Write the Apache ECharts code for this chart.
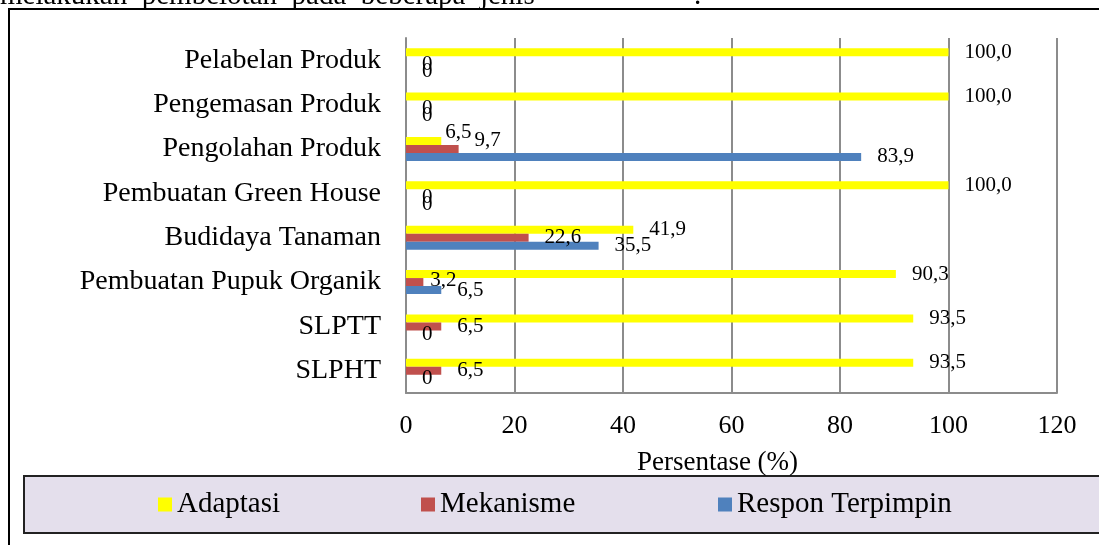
<!DOCTYPE html>
<html>
<head>
<meta charset="utf-8">
<script src="https://cdn.jsdelivr.net/npm/echarts@6/dist/echarts.min.js"></script>
<style>
html,body{margin:0;padding:0;background:#fff;}
#chart{width:1099px;height:545px;}
</style>
</head>
<body>
<div id="chart"></div>
<script>
// Categories bottom to top (as ECharts y category axis draws them)
var categories = ['SLPHT','SLPTT','Pembuatan Pupuk Organik','Budidaya Tanaman','Pembuatan Green House','Pengolahan Produk','Pengemasan Produk','Pelabelan Produk'];
var adaptasi = [93.5, 93.5, 90.3, 41.9, 100, 6.5, 100, 100];
var mekanisme = [6.5, 6.5, 3.2, 22.6, 0, 9.7, 0, 0];
var respon = [0, 0, 6.5, 35.5, 0, 83.9, 0, 0];
var seriesNames = ['Adaptasi','Mekanisme','Respon Terpimpin'];
var xTicks = [0, 20, 40, 60, 80, 100, 120];

// label nudges (separate from data)
var labelNudge = {
  'Adaptasi': {5: [-12, -8]},
  'Mekanisme': {5: [0, -8], 2: [-9, -2], 4: [0, 4], 6: [0, 4], 7: [0, 4]},
  'Respon Terpimpin': {4: [0, 3], 6: [0, 3], 7: [0, 3]}
};
var colors = {'Adaptasi':'#FFFF00','Mekanisme':'#C0504D','Respon Terpimpin':'#4F81BD'};
var FONT = '"Liberation Serif", "Times New Roman", serif';

function fmt(v){ return v === 0 ? '0' : v.toFixed(1).replace('.', ','); }
function mk(name, arr){
  return {
    name: name, type: 'bar', barWidth: 8, barGap: '0%',
    itemStyle: {color: colors[name]},
    label: {show: true, position: 'right', distance: 16, color: '#000', fontFamily: FONT, fontSize: 21,
      formatter: function(p){ return fmt(p.value); }},
    data: arr.map(function(v, i){
      var o = {value: v};
      var n = labelNudge[name] && labelNudge[name][i];
      if (n) o.label = {offset: n};
      return o;
    })
  };
}

var chart = echarts.init(document.getElementById('chart'), null, {renderer: 'canvas'});
function legendAt(left, name){
  return {left: left, top: 490, padding: 0, data: [name], icon: 'rect', itemWidth: 14, itemHeight: 14,
    textStyle: {fontFamily: FONT, fontSize: 29, color: '#000', padding: [6, 0, 0, 0]}};
}
chart.setOption({
  animation: false,
  textStyle: {fontFamily: FONT},
  graphic: [
    {type: 'rect', z: -10, shape: {x: 9, y: 9, width: 1200, height: 600}, style: {fill: 'none', stroke: '#000', lineWidth: 2}},
    {type: 'rect', z: -9, shape: {x: 24, y: 476, width: 1200, height: 57}, style: {fill: '#E4DFEC', stroke: '#222', lineWidth: 2}},
    {type: 'text', z: -8, x: 0, y: 11, style: {text: 'melakukan  pembelotan  pada  beberapa  jenis', font: '29px "Liberation Serif"', fill: '#000', verticalAlign: 'bottom'}},
    {type: 'text', z: -8, x: 694, y: 11, style: {text: '.', font: '29px "Liberation Serif"', fill: '#000', verticalAlign: 'bottom'}}
  ],
  legend: [
    legendAt(158, 'Adaptasi'),
    legendAt(421, 'Mekanisme'),
    legendAt(718, 'Respon Terpimpin')
  ],
  grid: {left: 406, right: 42, top: 38, bottom: 152, containLabel: false},
  xAxis: {
    type: 'value', min: xTicks[0], max: xTicks[xTicks.length-1], interval: 20,
    name: 'Persentase (%)', nameLocation: 'middle', nameGap: 56,
    nameTextStyle: {fontFamily: FONT, fontSize: 27, color: '#000', padding: [0, 28, 0, 0]},
    axisLine: {show: true, lineStyle: {color: '#8c8c8c', width: 2}},
    axisTick: {show: false},
    axisLabel: {fontFamily: FONT, fontSize: 26, color: '#000', margin: 20},
    splitLine: {show: true, lineStyle: {color: '#8c8c8c', width: 2}}
  },
  yAxis: {
    type: 'category', data: categories,
    axisLine: {show: true, lineStyle: {color: '#8c8c8c', width: 2}},
    axisTick: {show: false},
    axisLabel: {fontFamily: FONT, fontSize: 28, color: '#000', margin: 25},
    splitLine: {show: false}
  },
  series: [mk('Adaptasi', adaptasi), mk('Mekanisme', mekanisme), mk('Respon Terpimpin', respon)]
});
</script>
</body>
</html>
